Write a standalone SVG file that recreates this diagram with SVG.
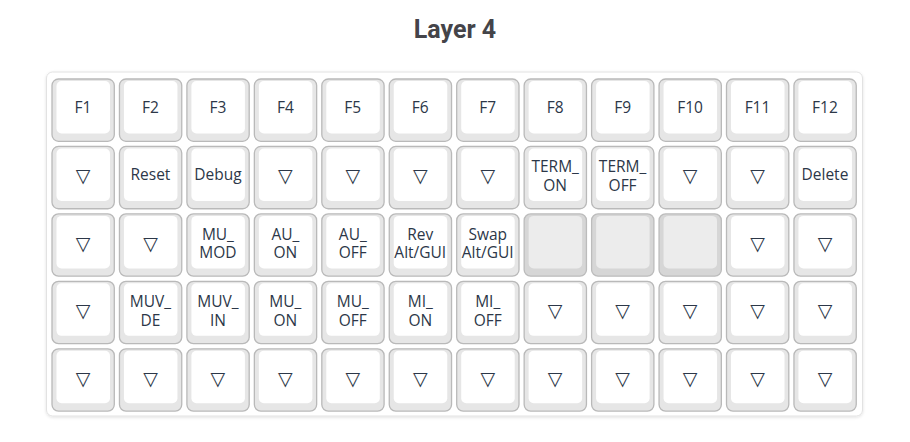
<svg xmlns="http://www.w3.org/2000/svg" width="910" height="442" viewBox="0 0 910 442">
<defs>
<style>
.bg{fill:#ffffff}
.board{fill:#ffffff;stroke:#e2e2e2;stroke-width:1}
.ko{fill:#e6e6e6;stroke:#b9b9b9;stroke-width:1.3}
.ki{fill:#ffffff}
.xo{fill:#d6d6d6;stroke:#bcbcbc;stroke-width:1.3}
.xi{fill:#ececec}
.t{font-family:"Open Sans","Noto Sans",sans-serif;font-size:15.5px;fill:#2c3748;text-anchor:middle}
.tri{font-family:"DejaVu Sans",sans-serif;font-size:19px;fill:#2c3748;text-anchor:middle}
.title{font-family:Roboto,"Liberation Sans",sans-serif;font-weight:bold;font-size:25px;fill:#444449;text-anchor:middle}
</style>
<filter id="sh" x="-5%" y="-5%" width="110%" height="110%">
<feDropShadow dx="0" dy="1" stdDeviation="1.5" flood-color="#000" flood-opacity="0.12"/>
</filter>
<g id="key"><rect class="ko" x="0" y="0" width="62.3" height="62.3" rx="6.5"/><rect class="ki" x="4.5" y="2" width="53.5" height="52.5" rx="5"/></g>
<g id="xkey"><rect class="xo" x="0" y="0" width="62.3" height="62.3" rx="6.5"/><rect class="xi" x="4.5" y="2" width="53.5" height="52.5" rx="5"/></g>
</defs>
<rect class="bg" x="0" y="0" width="910" height="442"/>
<text id="title" class="title" x="455" y="38">Layer 4</text>
<g id="connectors"></g>
<rect id="board" class="board" x="46.5" y="72" width="816" height="344" rx="6" filter="url(#sh)"/>

<!-- Row 1 -->
<g id="k-0-0" transform="translate(52,79)"><use href="#key"/><text class="t" x="31" y="34">F1</text></g>
<g id="k-0-1" transform="translate(119.45,79)"><use href="#key"/><text class="t" x="31" y="34">F2</text></g>
<g id="k-0-2" transform="translate(186.9,79)"><use href="#key"/><text class="t" x="31" y="34">F3</text></g>
<g id="k-0-3" transform="translate(254.35,79)"><use href="#key"/><text class="t" x="31" y="34">F4</text></g>
<g id="k-0-4" transform="translate(321.8,79)"><use href="#key"/><text class="t" x="31" y="34">F5</text></g>
<g id="k-0-5" transform="translate(389.25,79)"><use href="#key"/><text class="t" x="31" y="34">F6</text></g>
<g id="k-0-6" transform="translate(456.7,79)"><use href="#key"/><text class="t" x="31" y="34">F7</text></g>
<g id="k-0-7" transform="translate(524.15,79)"><use href="#key"/><text class="t" x="31" y="34">F8</text></g>
<g id="k-0-8" transform="translate(591.6,79)"><use href="#key"/><text class="t" x="31" y="34">F9</text></g>
<g id="k-0-9" transform="translate(659.05,79)"><use href="#key"/><text class="t" x="31" y="34">F10</text></g>
<g id="k-0-10" transform="translate(726.5,79)"><use href="#key"/><text class="t" x="31" y="34">F11</text></g>
<g id="k-0-11" transform="translate(793.95,79)"><use href="#key"/><text class="t" x="31" y="34">F12</text></g>

<!-- Row 2 -->
<g id="k-1-0" transform="translate(52,146.45)"><use href="#key"/><text class="tri" x="31" y="36">▽</text></g>
<g id="k-1-1" transform="translate(119.45,146.45)"><use href="#key"/><text class="t" x="31" y="34">Reset</text></g>
<g id="k-1-2" transform="translate(186.9,146.45)"><use href="#key"/><text class="t" x="31" y="34">Debug</text></g>
<g id="k-1-3" transform="translate(254.35,146.45)"><use href="#key"/><text class="tri" x="31" y="36">▽</text></g>
<g id="k-1-4" transform="translate(321.8,146.45)"><use href="#key"/><text class="tri" x="31" y="36">▽</text></g>
<g id="k-1-5" transform="translate(389.25,146.45)"><use href="#key"/><text class="tri" x="31" y="36">▽</text></g>
<g id="k-1-6" transform="translate(456.7,146.45)"><use href="#key"/><text class="tri" x="31" y="36">▽</text></g>
<g id="k-1-7" transform="translate(524.15,146.45)"><use href="#key"/><text class="t" x="31" y="26">TERM_</text><text class="t" x="31" y="44.5">ON</text></g>
<g id="k-1-8" transform="translate(591.6,146.45)"><use href="#key"/><text class="t" x="31" y="26">TERM_</text><text class="t" x="31" y="44.5">OFF</text></g>
<g id="k-1-9" transform="translate(659.05,146.45)"><use href="#key"/><text class="tri" x="31" y="36">▽</text></g>
<g id="k-1-10" transform="translate(726.5,146.45)"><use href="#key"/><text class="tri" x="31" y="36">▽</text></g>
<g id="k-1-11" transform="translate(793.95,146.45)"><use href="#key"/><text class="t" x="31" y="34">Delete</text></g>

<!-- Row 3 -->
<g id="k-2-0" transform="translate(52,213.9)"><use href="#key"/><text class="tri" x="31" y="36">▽</text></g>
<g id="k-2-1" transform="translate(119.45,213.9)"><use href="#key"/><text class="tri" x="31" y="36">▽</text></g>
<g id="k-2-2" transform="translate(186.9,213.9)"><use href="#key"/><text class="t" x="31" y="26">MU_</text><text class="t" x="31" y="44.5">MOD</text></g>
<g id="k-2-3" transform="translate(254.35,213.9)"><use href="#key"/><text class="t" x="31" y="26">AU_</text><text class="t" x="31" y="44.5">ON</text></g>
<g id="k-2-4" transform="translate(321.8,213.9)"><use href="#key"/><text class="t" x="31" y="26">AU_</text><text class="t" x="31" y="44.5">OFF</text></g>
<g id="k-2-5" transform="translate(389.25,213.9)"><use href="#key"/><text class="t" x="31" y="26">Rev</text><text class="t" x="31" y="44.5">Alt/GUI</text></g>
<g id="k-2-6" transform="translate(456.7,213.9)"><use href="#key"/><text class="t" x="31" y="26">Swap</text><text class="t" x="31" y="44.5">Alt/GUI</text></g>
<g id="k-2-7" transform="translate(524.15,213.9)"><use href="#xkey"/></g>
<g id="k-2-8" transform="translate(591.6,213.9)"><use href="#xkey"/></g>
<g id="k-2-9" transform="translate(659.05,213.9)"><use href="#xkey"/></g>
<g id="k-2-10" transform="translate(726.5,213.9)"><use href="#key"/><text class="tri" x="31" y="36">▽</text></g>
<g id="k-2-11" transform="translate(793.95,213.9)"><use href="#key"/><text class="tri" x="31" y="36">▽</text></g>

<!-- Row 4 -->
<g id="k-3-0" transform="translate(52,281.35)"><use href="#key"/><text class="tri" x="31" y="36">▽</text></g>
<g id="k-3-1" transform="translate(119.45,281.35)"><use href="#key"/><text class="t" x="31" y="26">MUV_</text><text class="t" x="31" y="44.5">DE</text></g>
<g id="k-3-2" transform="translate(186.9,281.35)"><use href="#key"/><text class="t" x="31" y="26">MUV_</text><text class="t" x="31" y="44.5">IN</text></g>
<g id="k-3-3" transform="translate(254.35,281.35)"><use href="#key"/><text class="t" x="31" y="26">MU_</text><text class="t" x="31" y="44.5">ON</text></g>
<g id="k-3-4" transform="translate(321.8,281.35)"><use href="#key"/><text class="t" x="31" y="26">MU_</text><text class="t" x="31" y="44.5">OFF</text></g>
<g id="k-3-5" transform="translate(389.25,281.35)"><use href="#key"/><text class="t" x="31" y="26">MI_</text><text class="t" x="31" y="44.5">ON</text></g>
<g id="k-3-6" transform="translate(456.7,281.35)"><use href="#key"/><text class="t" x="31" y="26">MI_</text><text class="t" x="31" y="44.5">OFF</text></g>
<g id="k-3-7" transform="translate(524.15,281.35)"><use href="#key"/><text class="tri" x="31" y="36">▽</text></g>
<g id="k-3-8" transform="translate(591.6,281.35)"><use href="#key"/><text class="tri" x="31" y="36">▽</text></g>
<g id="k-3-9" transform="translate(659.05,281.35)"><use href="#key"/><text class="tri" x="31" y="36">▽</text></g>
<g id="k-3-10" transform="translate(726.5,281.35)"><use href="#key"/><text class="tri" x="31" y="36">▽</text></g>
<g id="k-3-11" transform="translate(793.95,281.35)"><use href="#key"/><text class="tri" x="31" y="36">▽</text></g>

<!-- Row 5 -->
<g id="k-4-0" transform="translate(52,348.8)"><use href="#key"/><text class="tri" x="31" y="36">▽</text></g>
<g id="k-4-1" transform="translate(119.45,348.8)"><use href="#key"/><text class="tri" x="31" y="36">▽</text></g>
<g id="k-4-2" transform="translate(186.9,348.8)"><use href="#key"/><text class="tri" x="31" y="36">▽</text></g>
<g id="k-4-3" transform="translate(254.35,348.8)"><use href="#key"/><text class="tri" x="31" y="36">▽</text></g>
<g id="k-4-4" transform="translate(321.8,348.8)"><use href="#key"/><text class="tri" x="31" y="36">▽</text></g>
<g id="k-4-5" transform="translate(389.25,348.8)"><use href="#key"/><text class="tri" x="31" y="36">▽</text></g>
<g id="k-4-6" transform="translate(456.7,348.8)"><use href="#key"/><text class="tri" x="31" y="36">▽</text></g>
<g id="k-4-7" transform="translate(524.15,348.8)"><use href="#key"/><text class="tri" x="31" y="36">▽</text></g>
<g id="k-4-8" transform="translate(591.6,348.8)"><use href="#key"/><text class="tri" x="31" y="36">▽</text></g>
<g id="k-4-9" transform="translate(659.05,348.8)"><use href="#key"/><text class="tri" x="31" y="36">▽</text></g>
<g id="k-4-10" transform="translate(726.5,348.8)"><use href="#key"/><text class="tri" x="31" y="36">▽</text></g>
<g id="k-4-11" transform="translate(793.95,348.8)"><use href="#key"/><text class="tri" x="31" y="36">▽</text></g>
</svg>
